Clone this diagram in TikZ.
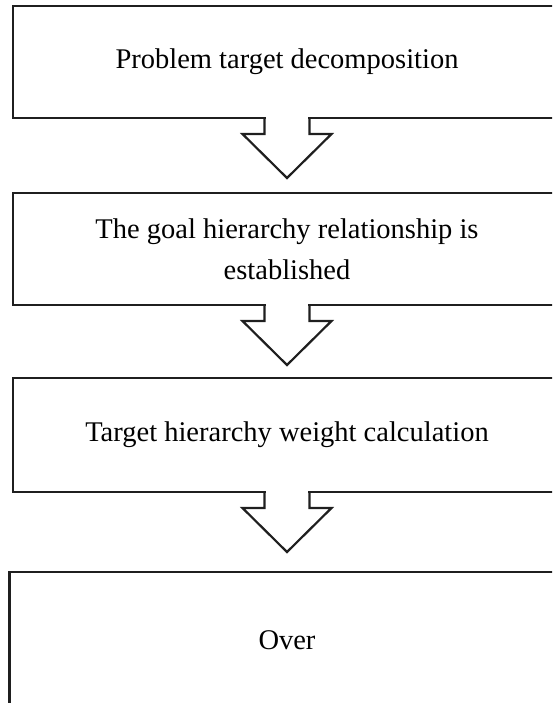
\documentclass[tikz,border=0pt]{standalone}
\usepackage{fontspec}
\setmainfont{Liberation Serif}
\begin{document}
\begin{tikzpicture}[x=1pt,y=-1pt,
  stepline/.style={draw=black!88,line width=2.2pt,line join=miter},
  stepbox/.style={stepline,rectangle,outer sep=0pt,inner sep=0pt,
    minimum width=548.3pt,minimum height=112pt,align=center,
    font=\fontsize{28.5}{41}\selectfont}]
\useasboundingbox (0,0) rectangle (552,703);
\clip (0,0) rectangle (552,703);
\node[stepbox] (b1) at (287,62) {Problem target decomposition};
\node[stepbox] (b2) at (287,249) {The goal hierarchy relationship is\\established};
\node[stepbox,minimum height=114pt] (b3) at (287,435) {Target hierarchy weight calculation};
\node[stepbox,minimum width=555pt,minimum height=140pt] (b4) at (287,642) {};
\node[font=\fontsize{28.5}{41}\selectfont] (t4) at (287,640) {Over};
\foreach \n in {b1,b2,b3}{
  \fill[white] ([xshift=-21.3pt,yshift=2pt]\n.south) rectangle ([xshift=21.3pt,yshift=-2pt]\n.south);
  \draw[stepline] ([xshift=-22.5pt]\n.south) -- ++(0,16) -- ++(-22,0) -- ++(44.5,44) -- ++(44.5,-44) -- ++(-22,0) -- ++(0,-16);
}
\end{tikzpicture}
\end{document}
